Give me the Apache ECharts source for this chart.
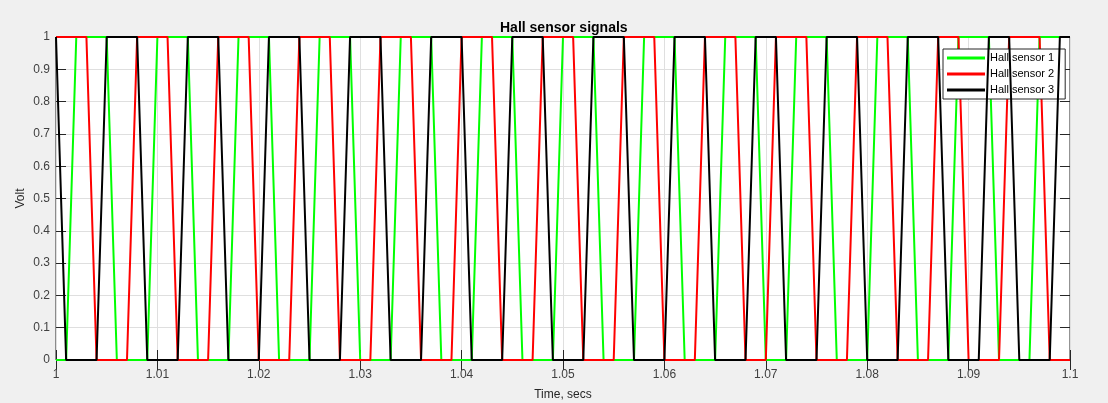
<!DOCTYPE html>
<html>
<head>
<meta charset="utf-8">
<title>Hall sensor signals</title>
<script src="https://cdn.jsdelivr.net/npm/echarts@6/dist/echarts.min.js"></script>
<style>
    html, body { margin: 0; padding: 0; background: #f0f0f0; }
    #hall-chart { width: 1108px; height: 403px; }
</style>
</head>
<body>
<div id="hall-chart"></div>
<script>
// sample times (1 ms steps)
const timeSecs = [
    1.000, 1.001, 1.002, 1.003, 1.004, 1.005, 1.006, 1.007, 1.008, 1.009,
    1.010, 1.011, 1.012, 1.013, 1.014, 1.015, 1.016, 1.017, 1.018, 1.019,
    1.020, 1.021, 1.022, 1.023, 1.024, 1.025, 1.026, 1.027, 1.028, 1.029,
    1.030, 1.031, 1.032, 1.033, 1.034, 1.035, 1.036, 1.037, 1.038, 1.039,
    1.040, 1.041, 1.042, 1.043, 1.044, 1.045, 1.046, 1.047, 1.048, 1.049,
    1.050, 1.051, 1.052, 1.053, 1.054, 1.055, 1.056, 1.057, 1.058, 1.059,
    1.060, 1.061, 1.062, 1.063, 1.064, 1.065, 1.066, 1.067, 1.068, 1.069,
    1.070, 1.071, 1.072, 1.073, 1.074, 1.075, 1.076, 1.077, 1.078, 1.079,
    1.080, 1.081, 1.082, 1.083, 1.084, 1.085, 1.086, 1.087, 1.088, 1.089,
    1.090, 1.091, 1.092, 1.093, 1.094, 1.095, 1.096, 1.097, 1.098, 1.099,
    1.100
];

const hall1 = [
    0, 0, 1, 1, 1, 1, 0, 0, 0, 0,
    1, 1, 1, 1, 0, 0, 0, 0, 1, 1,
    1, 1, 0, 0, 0, 0, 1, 1, 1, 1,
    0, 0, 0, 0, 1, 1, 1, 1, 0, 0,
    0, 0, 1, 1, 1, 1, 0, 0, 0, 0,
    1, 1, 1, 1, 0, 0, 0, 0, 1, 1,
    1, 1, 0, 0, 0, 0, 1, 1, 1, 1,
    0, 0, 0, 1, 1, 1, 1, 0, 0, 0,
    0, 1, 1, 1, 1, 0, 0, 0, 0, 1,
    1, 1, 1, 0, 0, 0, 0, 1, 1, 1,
    1
];

const hall2 = [
    1, 1, 1, 1, 0, 0, 0, 0, 1, 1,
    1, 1, 0, 0, 0, 0, 1, 1, 1, 1,
    0, 0, 0, 0, 1, 1, 1, 1, 0, 0,
    0, 0, 1, 1, 1, 1, 0, 0, 0, 0,
    1, 1, 1, 1, 0, 0, 0, 0, 1, 1,
    1, 1, 0, 0, 0, 0, 1, 1, 1, 1,
    0, 0, 0, 0, 1, 1, 1, 1, 0, 0,
    0, 1, 1, 1, 1, 0, 0, 0, 0, 1,
    1, 1, 1, 0, 0, 0, 0, 1, 1, 1,
    0, 0, 0, 0, 1, 1, 1, 1, 0, 0,
    0
];

const hall3 = [
    1, 0, 0, 0, 0, 1, 1, 1, 1, 0,
    0, 0, 0, 1, 1, 1, 1, 0, 0, 0,
    0, 1, 1, 1, 1, 0, 0, 0, 0, 1,
    1, 1, 1, 0, 0, 0, 0, 1, 1, 1,
    1, 0, 0, 0, 0, 1, 1, 1, 1, 0,
    0, 0, 0, 1, 1, 1, 1, 0, 0, 0,
    0, 1, 1, 1, 1, 0, 0, 0, 0, 1,
    1, 1, 0, 0, 0, 0, 1, 1, 1, 1,
    0, 0, 0, 0, 1, 1, 1, 1, 0, 0,
    0, 0, 1, 1, 1, 0, 0, 0, 0, 1,
    1
];

const seriesNames = ['Hall sensor 1', 'Hall sensor 2', 'Hall sensor 3'];
const seriesColors = ['#00ff00', '#ff0000', '#000000'];

function pairUp(values) {
    return values.map(function(v, i) { return [timeSecs[i], v]; });
}

function initHallChart() {
    const chartDom = document.getElementById('hall-chart');
    if (!chartDom) return;

    const chart = echarts.init(chartDom);
    const font = "'Liberation Sans', Arial, Helvetica, sans-serif";
    const axisDark = '#262626';

    const tickStyle = {
        show: true,
        inside: true,
        length: 10,
        lineStyle: { color: axisDark, width: 1 }
    };

    const option = {
        backgroundColor: '#f0f0f0',
        animation: false,
        textStyle: { fontFamily: font },
        title: {
            text: 'Hall sensor signals',
            left: 495,
            top: 16,
            textStyle: {
                fontSize: 14,
                fontWeight: 'bold',
                color: '#000',
                fontFamily: font
            }
        },
        legend: {
            data: seriesNames,
            orient: 'vertical',
            left: 943,
            top: 49,
            icon: 'rect',
            itemWidth: 38,
            itemHeight: 3,
            itemGap: 4,
            itemTextGap: 3,
            padding: [3, 11, 3, 4],
            backgroundColor: '#ffffff',
            borderColor: axisDark,
            borderWidth: 1,
            textStyle: {
                fontSize: 11,
                lineHeight: 12,
                color: '#000',
                fontFamily: font
            }
        },
        grid: {
            show: true,
            left: 56,
            right: 38,
            top: 37,
            bottom: 43,
            backgroundColor: '#ffffff',
            borderColor: axisDark,
            borderWidth: 1,
            containLabel: false,
            outerBoundsMode: 'none'
        },
        xAxis: [
            {
                type: 'value',
                min: 1,
                max: 1.1,
                interval: 0.01,
                name: 'Time, secs',
                nameLocation: 'middle',
                nameGap: 29,
                nameTextStyle: { fontSize: 12, color: '#262626', fontFamily: font },
                axisLine: { show: false },
                axisTick: tickStyle,
                axisLabel: {
                    margin: 9,
                    fontSize: 12,
                    color: '#404040',
                    fontFamily: font,
                    formatter: function(v) { return String(+v.toFixed(2)); }
                },
                splitLine: { show: true, lineStyle: { color: '#dfdfdf', width: 1 } }
            },
            {
                type: 'value',
                position: 'top',
                min: 1,
                max: 1.1,
                interval: 0.01,
                axisLine: { show: false },
                axisTick: tickStyle,
                axisLabel: { show: false },
                splitLine: { show: false }
            }
        ],
        yAxis: [
            {
                type: 'value',
                min: 0,
                max: 1,
                interval: 0.1,
                name: 'Volt',
                nameLocation: 'middle',
                nameGap: 29,
                nameMoveOverlap: false,
                nameTextStyle: { fontSize: 12, color: '#262626', fontFamily: font },
                axisLine: { show: false },
                axisTick: tickStyle,
                axisLabel: {
                    margin: 6,
                    fontSize: 12,
                    color: '#404040',
                    fontFamily: font,
                    formatter: function(v) { return String(+v.toFixed(1)); }
                },
                splitLine: { show: true, lineStyle: { color: '#dfdfdf', width: 1 } }
            },
            {
                type: 'value',
                position: 'right',
                min: 0,
                max: 1,
                interval: 0.1,
                axisLine: { show: false },
                axisTick: tickStyle,
                axisLabel: { show: false },
                splitLine: { show: false }
            }
        ],
        series: [hall1, hall2, hall3].map(function(values, k) {
            return {
                name: seriesNames[k],
                type: 'line',
                xAxisIndex: 0,
                yAxisIndex: 0,
                data: pairUp(values),
                showSymbol: false,
                symbol: 'none',
                color: seriesColors[k],
                lineStyle: { color: seriesColors[k], width: 2 },
                z: 2 + k
            };
        })
    };

    chart.setOption(option);
    window.addEventListener('resize', function() { chart.resize(); });
}

initHallChart();
</script>
</body>
</html>
